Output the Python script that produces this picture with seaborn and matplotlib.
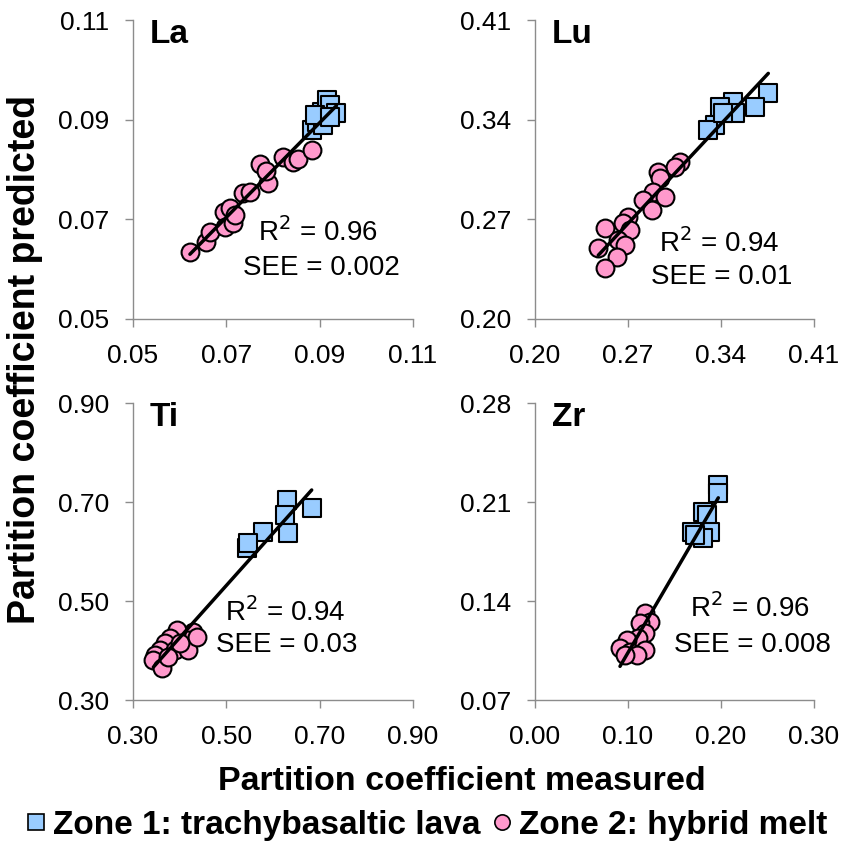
import numpy as np
import pandas as pd
import matplotlib
matplotlib.use("Agg")
import matplotlib.pyplot as plt
import seaborn as sns
from matplotlib.lines import Line2D

sns.set_style("white")
plt.rcParams['font.family'] = ['Liberation Sans', 'DejaVu Sans']
plt.rcParams['text.color'] = 'black'

# ---- data (measured, predicted) ----
la_z1_meas = [0.0883, 0.0894, 0.0904, 0.0915, 0.0922, 0.0936, 0.0908, 0.0890, 0.0922]
la_z1_pred = [0.0879, 0.0896, 0.0916, 0.0940, 0.0929, 0.0913, 0.0889, 0.0909, 0.0906]
la_z2_meas = [0.0622, 0.0656, 0.0665, 0.0694, 0.0708, 0.0697, 0.0715, 0.0719, 0.0736,
              0.0751, 0.0790, 0.0772, 0.0786, 0.0822, 0.0843, 0.0854, 0.0883]
la_z2_pred = [0.0635, 0.0655, 0.0675, 0.0715, 0.0722, 0.0685, 0.0692, 0.0709, 0.0752,
              0.0755, 0.0772, 0.0812, 0.0796, 0.0826, 0.0816, 0.0822, 0.0839]

lu_z1_meas = [0.3756, 0.3656, 0.3493, 0.3392, 0.3505, 0.3355, 0.3304, 0.3417]
lu_z1_pred = [0.3585, 0.3491, 0.3526, 0.3491, 0.3445, 0.3363, 0.3327, 0.3445]
lu_z2_meas = [0.3091, 0.3054, 0.2928, 0.2941, 0.2891, 0.2978, 0.2815, 0.2878, 0.2702,
              0.2665, 0.2715, 0.2527, 0.2627, 0.2677, 0.2476, 0.2615, 0.2527]
lu_z2_pred = [0.3105, 0.3070, 0.3035, 0.2988, 0.2894, 0.2859, 0.2836, 0.2766, 0.2719,
              0.2672, 0.2625, 0.2637, 0.2555, 0.2520, 0.2497, 0.2438, 0.2356]

ti_z1_meas = [0.6293, 0.6829, 0.6257, 0.6328, 0.5792, 0.5436, 0.5471]
ti_z1_pred = [0.7040, 0.6872, 0.6737, 0.6367, 0.6400, 0.6064, 0.6165]
ti_z2_meas = [0.4292, 0.4185, 0.3936, 0.3793, 0.3686, 0.3579, 0.3471, 0.3436, 0.3615,
              0.3900, 0.4185, 0.3757, 0.4007, 0.4365]
ti_z2_pred = [0.4380, 0.4212, 0.4414, 0.4246, 0.4145, 0.4010, 0.3909, 0.3808, 0.3640,
              0.4010, 0.4010, 0.3875, 0.4145, 0.4280]

zr_z1_meas = [0.1971, 0.1971, 0.1810, 0.1846, 0.1685, 0.1882, 0.1810, 0.1720]
zr_z1_pred = [0.2220, 0.2161, 0.2031, 0.2008, 0.1890, 0.1890, 0.1843, 0.1866]
zr_z2_meas = [0.1183, 0.1237, 0.1129, 0.1183, 0.1111, 0.0986, 0.0914, 0.1022, 0.1183,
              0.1093, 0.0968]
zr_z2_pred = [0.1313, 0.1255, 0.1242, 0.1172, 0.1136, 0.1124, 0.1066, 0.1042, 0.1054,
              0.1018, 0.1018]

panel_names = ["La", "Lu", "Ti", "Zr"]
r2_texts = ["0.96", "0.94", "0.94", "0.96"]
see_texts = ["0.002", "0.01", "0.03", "0.008"]
x_ticks = [[0.05, 0.07, 0.09, 0.11], [0.20, 0.27, 0.34, 0.41],
           [0.30, 0.50, 0.70, 0.90], [0.00, 0.10, 0.20, 0.30]]
y_ticks = [[0.05, 0.07, 0.09, 0.11], [0.20, 0.27, 0.34, 0.41],
           [0.30, 0.50, 0.70, 0.90], [0.07, 0.14, 0.21, 0.28]]

panels = [
    (la_z1_meas, la_z1_pred, la_z2_meas, la_z2_pred),
    (lu_z1_meas, lu_z1_pred, lu_z2_meas, lu_z2_pred),
    (ti_z1_meas, ti_z1_pred, ti_z2_meas, ti_z2_pred),
    (zr_z1_meas, zr_z1_pred, zr_z2_meas, zr_z2_pred),
]

# text positions (axes fraction)
r2_pos = [(0.661, 0.291), (0.659, 0.254), (0.543, 0.296), (0.771, 0.310)]
see_pos = [(0.671, 0.171), (0.670, 0.140), (0.550, 0.185), (0.778, 0.185)]

W, H = 848, 847
fig = plt.figure(figsize=(W / 100, H / 100), dpi=100)

def ax_rect(x0, x1, ytop, ybot):
    return [x0 / W, 1 - ybot / H, (x1 - x0) / W, (ybot - ytop) / H]

rects = [ax_rect(133, 413, 20, 319), ax_rect(535, 814, 20, 319),
         ax_rect(133, 413, 403, 700), ax_rect(535, 814, 403, 700)]

blue = "#99CCFF"
pink = "#FF99CC"
gray = "#8c8c8c"

for i, (m1, p1, m2, p2) in enumerate(panels):
    ax = fig.add_axes(rects[i])
    df1 = pd.DataFrame({"measured": m1, "predicted": p1})
    df2 = pd.DataFrame({"measured": m2, "predicted": p2})
    dfall = pd.concat([df1, df2], ignore_index=True)
    sns.scatterplot(data=df2, x="measured", y="predicted", ax=ax, marker="o", s=165,
                    color=pink, edgecolor="black", linewidth=1.5, zorder=3)
    sns.scatterplot(data=df1, x="measured", y="predicted", ax=ax, marker="s", s=175,
                    color=blue, edgecolor="black", linewidth=1.5, zorder=3)
    sns.regplot(data=dfall, x="measured", y="predicted", ax=ax, scatter=False, ci=None,
                truncate=True, color="black", line_kws={"linewidth": 2.5, "zorder": 4})
    xt, yt = x_ticks[i], y_ticks[i]
    ax.set_xlim(xt[0], xt[-1])
    ax.set_ylim(yt[0], yt[-1])
    ax.set_xticks(xt)
    ax.set_xticklabels([f"{v:.2f}" for v in xt])
    ax.set_yticks(yt)
    ax.set_yticklabels([f"{v:.2f}" for v in yt])
    ax.set_xlabel("")
    ax.set_ylabel("")
    for s in ["top", "right"]:
        ax.spines[s].set_visible(False)
    for s in ["left", "bottom"]:
        ax.spines[s].set_color(gray)
        ax.spines[s].set_linewidth(1.0)
    ax.tick_params(axis="both", direction="out", length=6, width=1.0, color=gray,
                   labelsize=19, labelcolor="black", left=True, bottom=True)
    ax.tick_params(axis="x", pad=12)
    ax.tick_params(axis="y", pad=11)
    for lab in ax.get_xticklabels() + ax.get_yticklabels():
        lab.set_clip_on(False)
    ax.text(0.06, 0.95, panel_names[i], transform=ax.transAxes, fontsize=24,
            fontweight="bold", ha="left", va="center", color="black")
    ax.text(r2_pos[i][0], r2_pos[i][1], "R$^2$ = " + r2_texts[i], transform=ax.transAxes,
            fontsize=20, ha="center", va="center", color="black")
    ax.text(see_pos[i][0], see_pos[i][1], "SEE = " + see_texts[i], transform=ax.transAxes,
            fontsize=20, ha="center", va="center", color="black")

fig.text(25 / W, 1 - 360 / H, "Partition coefficient predicted", rotation=90,
         fontsize=27, fontweight="bold", ha="center", va="center", color="black")
fig.text(462 / W, 1 - 781 / H, "Partition coefficient measured",
         fontsize=24.5, fontweight="bold", ha="center", va="center", color="black")

handles = [
    Line2D([], [], marker="s", linestyle="none", markerfacecolor=blue,
           markeredgecolor="black", markeredgewidth=1.2, markersize=11),
    Line2D([], [], marker="o", linestyle="none", markerfacecolor=pink,
           markeredgecolor="black", markeredgewidth=1.2, markersize=11),
]
leg = fig.legend(handles, ["Zone 1: trachybasaltic lava", "Zone 2: hybrid melt"],
                 loc="center", bbox_to_anchor=(425 / W, 1 - 825 / H), ncol=2,
                 frameon=False, prop={"size": 24, "weight": "bold"},
                 handletextpad=0.12, columnspacing=0.25, handlelength=0.8,
                 borderaxespad=0)
for t in leg.get_texts():
    t.set_color("black")

fig.savefig("out.png", dpi=100, facecolor="white")
